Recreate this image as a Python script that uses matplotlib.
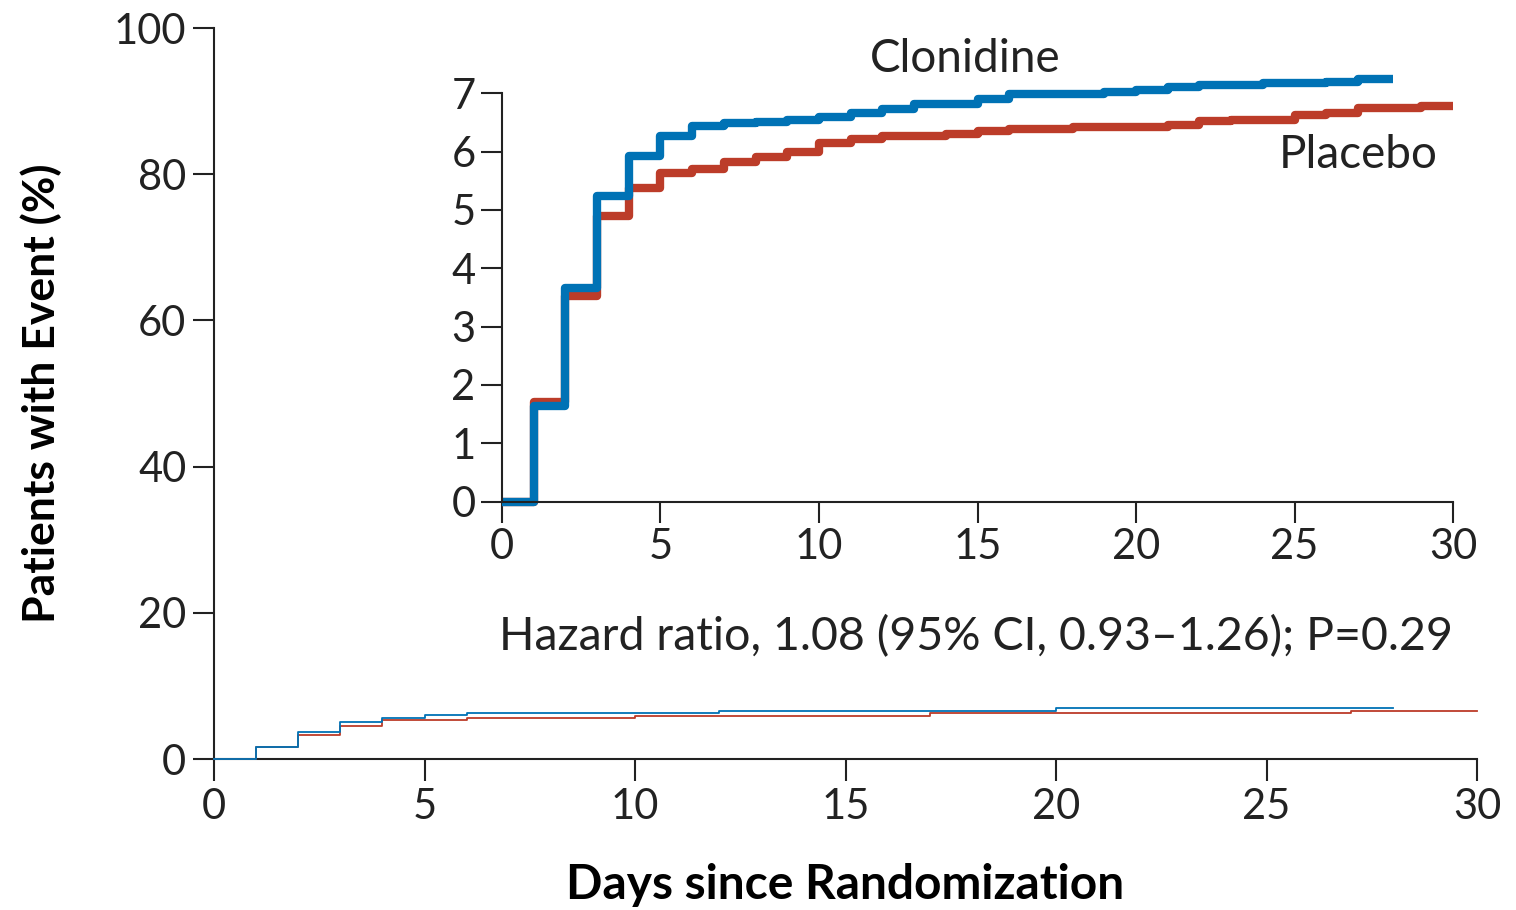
import matplotlib
matplotlib.use("Agg")
import matplotlib.pyplot as plt

# main panel (coarse steps as drawn in the full-scale plot)
main_days_clon = [0, 1, 2, 3, 4, 5, 6, 12, 20, 28]
main_clon = [0, 1.7, 3.65, 5.0, 5.65, 6.0, 6.35, 6.6, 6.95, 6.95]
main_days_plac = [0, 1, 2, 3, 4, 5, 6, 10, 17, 27, 30]
main_plac = [0, 1.7, 3.3, 4.5, 5.3, 5.4, 5.6, 5.9, 6.25, 6.6, 6.6]

# inset (zoomed 0-7%)
clon_days = [0, 1, 2, 3, 4, 5, 6, 7, 8, 9, 10, 11, 12, 13, 15, 16, 19, 20, 21, 22, 24, 26, 27, 28.1]
clon_vals = [0, 1.64, 3.66, 5.24, 5.93, 6.26, 6.44, 6.49, 6.51, 6.55, 6.60, 6.66, 6.73, 6.82,
             6.90, 6.99, 7.03, 7.06, 7.11, 7.15, 7.18, 7.20, 7.25, 7.25]
plac_days = [0, 1, 2, 3, 4, 5, 6, 7, 8, 9, 10, 11, 12, 14, 15, 16, 18, 19, 21, 22, 23, 25, 26, 27, 29, 30]
plac_vals = [0, 1.71, 3.53, 4.89, 5.37, 5.63, 5.70, 5.83, 5.91, 6.0, 6.15, 6.22, 6.26, 6.31, 6.35,
             6.38, 6.42, 6.43, 6.46, 6.52, 6.55, 6.62, 6.66, 6.75, 6.78, 6.78]

main_xticks = [0, 5, 10, 15, 20, 25, 30]
main_yticks = [0, 20, 40, 60, 80, 100]
inset_yticks = [0, 1, 2, 3, 4, 5, 6, 7]

BLUE = "#0072B5"
RED = "#BC3C29"
TXT = "#222222"

plt.rcParams['font.family'] = ['Lato', 'DejaVu Sans']

fig = plt.figure(figsize=(15.16, 9.10), dpi=100)

ax = fig.add_axes([0.1412, 0.1659, 0.8331, 0.8033])
ax.step(main_days_plac, main_plac, where='post', color=RED, lw=1.3, clip_on=False, zorder=3)
ax.step(main_days_clon, main_clon, where='post', color=BLUE, lw=1.3, clip_on=False, zorder=3)
ax.set_xlim(0, 30)
ax.set_ylim(0, 100)
ax.set_xticks(main_xticks)
ax.set_yticks(main_yticks)
for s in ['top', 'right']:
    ax.spines[s].set_visible(False)
for s in ['left', 'bottom']:
    ax.spines[s].set_linewidth(1.5)
    ax.spines[s].set_color(TXT)
ax.tick_params(axis='y', length=15, width=1.5, pad=5, labelsize=30, colors=TXT)
ax.tick_params(axis='x', length=16, width=1.5, pad=5, labelsize=30, colors=TXT)
ax.set_xlabel("Days since Randomization", fontsize=34.5, fontweight='bold', color='black', va='center')
ax.xaxis.set_label_coords(0.5, -0.172)
ax.set_ylabel("Patients with Event (%)", fontsize=32, fontweight='bold', color='black', va='center')
ax.yaxis.set_label_coords(-0.137, 0.5)

ins = fig.add_axes([0.3311, 0.4487, 0.6274, 0.4488])
ins.patch.set_alpha(0)
ins.step(plac_days, plac_vals, where='post', color=RED, lw=6, clip_on=False, solid_capstyle='butt')
ins.step(clon_days, clon_vals, where='post', color=BLUE, lw=6, clip_on=False, solid_capstyle='butt')
ins.set_xlim(0, 30)
ins.set_ylim(0, 7)
ins.set_xticks(main_xticks)
ins.set_yticks(inset_yticks)
for s in ['top', 'right']:
    ins.spines[s].set_visible(False)
for s in ['left', 'bottom']:
    ins.spines[s].set_linewidth(1.5)
    ins.spines[s].set_color(TXT)
ins.tick_params(axis='both', length=15, width=1.5, pad=4, labelsize=30, colors=TXT)

ins.text(14.6, 7.58, "Clonidine", fontsize=33, color=TXT, ha='center', va='center')
ins.text(27.0, 5.95, "Placebo", fontsize=33, color=TXT, ha='center', va='center')
ins.text(30, -2.32, "Hazard ratio, 1.08 (95% CI, 0.93\u20131.26); P=0.29", fontsize=33.5,
         color=TXT, ha='right', va='center')

fig.savefig("out.png", dpi=100)
